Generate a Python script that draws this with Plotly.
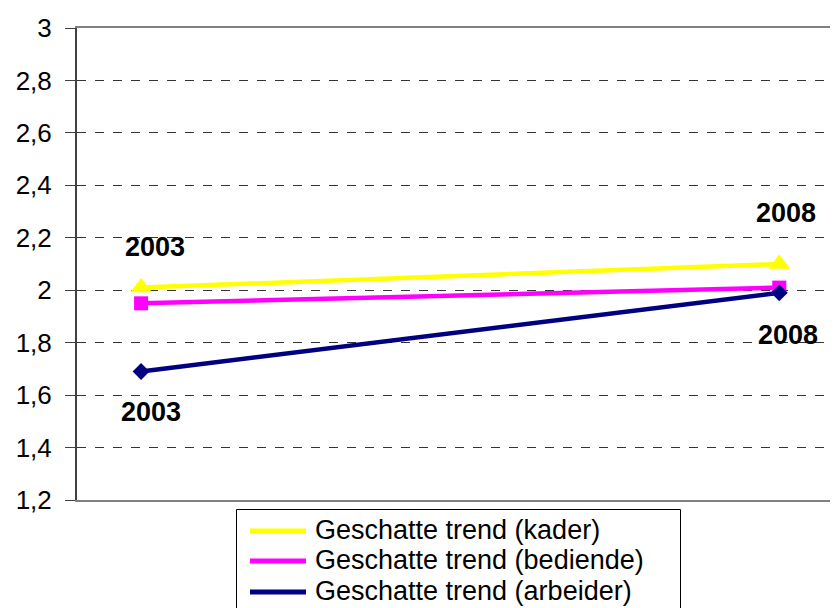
import plotly.graph_objects as go

years = [2003, 2008]
kader = [2.01, 2.10]
bediende = [1.95, 2.01]
arbeider = [1.69, 1.99]

series_names = ["Geschatte trend (kader)", "Geschatte trend (bediende)", "Geschatte trend (arbeider)"]
series_values = [kader, bediende, arbeider]
colors = ["#FFFF00", "#FF00FF", "#000080"]
symbols = ["triangle-up", "square", "diamond"]
msizes = [19, 14, 13]

y_ticks = [1.2, 1.4, 1.6, 1.8, 2.0, 2.2, 2.4, 2.6, 2.8, 3.0]

# year labels near the line ends
label_text = ["2003", "2003", "2008", "2008"]
label_x = [2003.11, 2003.08, 2008.05, 2008.07]
label_y = [2.165, 1.535, 2.294, 1.829]

# page layout (the page body adds an 8px offset)
OFF = 8
PL, PR, PT, PB = 77, 838, 28, 500  # plot area in page pixels
W, H = 838, 608


def px_x(px):
    return (px - PL) / (PR - PL)


def px_y(py):
    return (PB - py) / (PB - PT)


fig = go.Figure()
for name, vals, col in zip(series_names, series_values, colors):
    fig.add_trace(go.Scatter(x=years, y=vals, mode="lines", name=name,
                             line=dict(color=col, width=4.5), showlegend=False))
for name, vals, col, sym, ms in zip(series_names, series_values, colors, symbols, msizes):
    fig.add_trace(go.Scatter(x=years, y=vals, mode="markers", name=name,
                             marker=dict(color=col, symbol=sym, size=ms, line=dict(width=0)),
                             showlegend=False))

for t, x, y in zip(label_text, label_x, label_y):
    fig.add_annotation(x=x, y=y, text="<b>" + t + "</b>", showarrow=False,
                       font=dict(family="Liberation Sans, Arial", size=27, color="black"))

# legend box
fig.add_shape(type="rect", xref="paper", yref="paper",
              x0=px_x(236.5), x1=px_x(680.5), y0=px_y(509.5), y1=px_y(640),
              line=dict(color="black", width=1), fillcolor="white", layer="above")
legend_rows = [531, 561, 592]
for name, col, ry in zip(series_names, colors, legend_rows):
    fig.add_shape(type="line", xref="paper", yref="paper",
                  x0=px_x(250), x1=px_x(306), y0=px_y(ry), y1=px_y(ry),
                  line=dict(color=col, width=5), layer="above")
    fig.add_annotation(xref="paper", yref="paper", x=px_x(313), y=px_y(ry - 1),
                       xanchor="left", yanchor="middle", showarrow=False, text=name,
                       font=dict(family="Liberation Sans, Arial", size=27, color="black"))

fig.update_layout(
    width=W, height=H,
    margin=dict(l=PL - OFF, r=W + OFF - PR, t=PT - OFF, b=H + OFF - PB, autoexpand=False),
    paper_bgcolor="white", plot_bgcolor="white",
    separators=",.",
    font=dict(family="Liberation Sans, Arial", color="black"),
    showlegend=False,
)
fig.update_xaxes(range=[2002.498, 2008.46], showgrid=False, zeroline=False,
                 showticklabels=False, ticks="", showline=True, linecolor="#808080",
                 linewidth=2, mirror=True, automargin=False)
fig.update_yaxes(range=[1.2, 3.0], tickvals=y_ticks, showgrid=True, gridcolor="#333333",
                 griddash="dash", gridwidth=1, zeroline=False, showline=True,
                 linecolor="#404040", linewidth=2, ticks="outside", ticklen=10,
                 tickcolor="#404040", tickfont=dict(size=26, color="black"),
                 ticklabelstandoff=8, automargin=False)

fig.write_html("out.html")
